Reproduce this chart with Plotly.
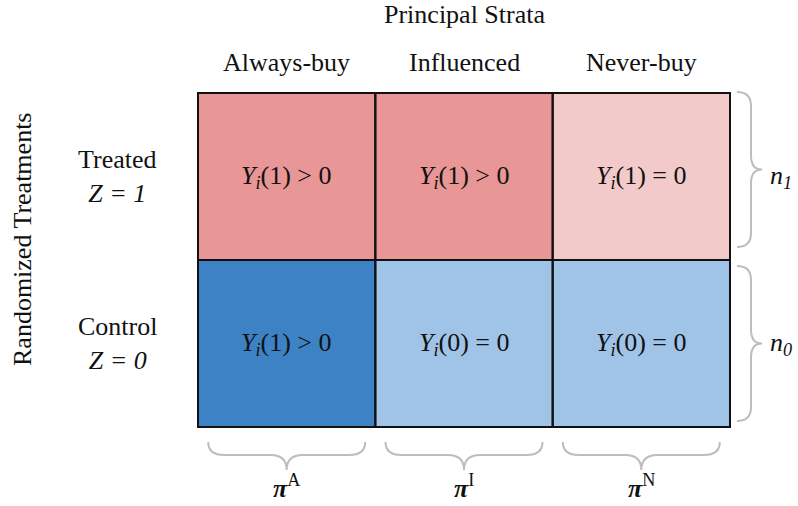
import plotly.graph_objects as go

# ---- data ----
strata = ["Always-buy", "Influenced", "Never-buy"]
groups = ["Control<br><i>Z = 0</i>", "Treated<br><i>Z = 1</i>"]  # bottom -> top
# colour code per cell: 0 = strong red, 1 = light red, 2 = light blue, 3 = strong blue
cell_codes = [
    [3, 2, 2],  # Control
    [0, 0, 1],  # Treated
]
cell_texts = [
    ["<i>Y</i><sub><i>i</i></sub>(1) > 0", "<i>Y</i><sub><i>i</i></sub>(0) = 0", "<i>Y</i><sub><i>i</i></sub>(0) = 0"],
    ["<i>Y</i><sub><i>i</i></sub>(1) > 0", "<i>Y</i><sub><i>i</i></sub>(1) > 0", "<i>Y</i><sub><i>i</i></sub>(1) = 0"],
]
pi_labels = ["<b><i>π</i></b><sup>A</sup>", "<b><i>π</i></b><sup>I</sup>", "<b><i>π</i></b><sup>N</sup>"]
n_labels = ["<i>n</i><sub><i>0</i></sub>", "<i>n</i><sub><i>1</i></sub>"]
col_title = "Principal Strata"
row_title = "Randomized Treatments"

# ---- style ----
FONT = "Liberation Serif"
W, H = 798, 506
ML, MR, MT, MB = 198, 68, 93, 79
PW, PH = W - ML - MR, H - MT - MB
BRACE = "#BDBDBD"
TXT = "#111111"

ncol, nrow = len(strata), len(groups)

def xp(x):  # data x -> paper
    return (x + 0.5) / ncol

def yp(y):  # data y -> paper
    return (y + 0.5) / nrow

def dx(px):
    return px / PW

def dy(px):
    return px / PH

def px_x(p):  # page pixel x -> paper
    return (p - ML) / PW

def px_y(p):  # page pixel y -> paper
    return (H - MB - p) / PH

fig = go.Figure(
    go.Heatmap(
        z=cell_codes,
        x=list(range(ncol)),
        y=list(range(nrow)),
        zmin=0, zmax=3,
        colorscale=[[0, "#E89696"], [1 / 3, "#F3CACA"], [2 / 3, "#A0C4E7"], [1, "#3D82C5"]],
        showscale=False,
        hoverinfo="skip",
    )
)

shapes = []
# cell borders
for j in range(nrow):
    for i in range(ncol):
        shapes.append(dict(type="rect", xref="paper", yref="paper",
                           x0=xp(i - 0.5), x1=xp(i + 0.5), y0=yp(j - 0.5), y1=yp(j + 0.5),
                           line=dict(color=TXT, width=2), fillcolor="rgba(0,0,0,0)"))

# right braces (one per row)
row_shift = [0, 7]
for j in range(nrow):
    ym = yp(j) + dy(row_shift[j])
    half = dy(77.5)
    yt, yb = ym + half, ym - half
    x0 = 1 + dx(7); x1 = 1 + dx(21); x2 = 1 + dx(32)
    r = dy(14)
    path = (f"M {x0},{yt} Q {x1},{yt} {x1},{yt - r} L {x1},{ym + r} "
            f"Q {x1},{ym} {x2},{ym} Q {x1},{ym} {x1},{ym - r} "
            f"L {x1},{yb + r} Q {x1},{yb} {x0},{yb}")
    shapes.append(dict(type="path", xref="paper", yref="paper", path=path,
                       line=dict(color=BRACE, width=2)))

# bottom braces (one per column)
for i in range(ncol):
    xm = xp(i)
    half = dx(78.5)
    xl, xr = xm - half, xm + half
    y0 = -dy(15); y1 = -dy(28); y2 = -dy(43)
    r = dx(16)
    path = (f"M {xl},{y0} Q {xl},{y1} {xl + r},{y1} L {xm - r},{y1} "
            f"Q {xm},{y1} {xm},{y2} Q {xm},{y1} {xm + r},{y1} "
            f"L {xr - r},{y1} Q {xr},{y1} {xr},{y0}")
    shapes.append(dict(type="path", xref="paper", yref="paper", path=path,
                       line=dict(color=BRACE, width=2)))

ann = []
fs = 26
font = dict(family=FONT, size=fs, color=TXT)
for j in range(nrow):
    for i in range(ncol):
        ann.append(dict(x=i, y=j, xref="x", yref="y", text=cell_texts[j][i],
                        showarrow=False, font=font))
# column headers
for i, s in enumerate(strata):
    ann.append(dict(x=i, y=px_y(62), xref="x", yref="paper", text=s, showarrow=False,
                    xanchor="center", yanchor="middle", font=font))
ann.append(dict(x=0.5, y=px_y(14), xref="paper", yref="paper", xanchor="center", yanchor="middle",
                text=col_title, showarrow=False, font=font))
# row labels
for j, g in enumerate(groups):
    ann.append(dict(x=px_x(117), y=j, xref="paper", yref="y", text=g, showarrow=False,
                    xanchor="center", yanchor="middle", font=font))
ann.append(dict(x=px_x(22), y=px_y(240), xref="paper", yref="paper", text=row_title,
                xanchor="center", yanchor="middle",
                textangle=-90, showarrow=False, font=font))
# pi labels
for i, t in enumerate(pi_labels):
    ann.append(dict(x=i, y=px_y(505), xref="x", yref="paper", text=t, showarrow=False,
                    xanchor="center", yanchor="bottom", font=font))
# n labels
for j, t in enumerate(n_labels):
    ann.append(dict(x=px_x(768), y=j, xref="paper", yref="y", xanchor="left", yanchor="middle",
                    text=t, showarrow=False, font=font))

fig.update_layout(
    width=W, height=H,
    margin=dict(l=ML, r=MR, t=MT, b=MB),
    paper_bgcolor="white", plot_bgcolor="white",
    xaxis=dict(range=[-0.5, ncol - 0.5], visible=False, fixedrange=True),
    yaxis=dict(range=[-0.5, nrow - 0.5], visible=False, fixedrange=True),
    shapes=shapes, annotations=ann, showlegend=False,
)

fig.write_html("out.html", config={"displayModeBar": False},
               post_script="document.body.style.margin='0';")
